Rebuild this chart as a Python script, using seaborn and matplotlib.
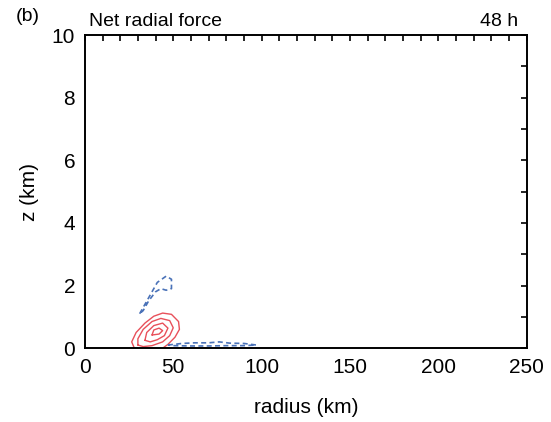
import matplotlib
matplotlib.use("Agg")
import matplotlib.pyplot as plt
import seaborn as sns
import pandas as pd
from matplotlib.ticker import MultipleLocator

# ------------------------------------------------------------
# contour paths (radius km, height km)
# ------------------------------------------------------------
# positive net radial force (red, solid)
red_r1 = [28, 26.5, 29, 34, 39, 44, 49, 53, 53.5, 51, 47, 44]
red_z1 = [0.0, 0.2, 0.5, 0.8, 1.02, 1.12, 1.08, 0.85, 0.6, 0.35, 0.12, 0.0]
red_r2 = [30, 30, 33, 38, 43, 48, 50, 48, 44, 38, 33, 30]
red_z2 = [0.1, 0.3, 0.6, 0.85, 0.95, 0.88, 0.65, 0.4, 0.2, 0.08, 0.05, 0.1]
red_r3 = [34, 35, 39, 44, 47, 45, 41, 37, 34]
red_z3 = [0.25, 0.5, 0.72, 0.8, 0.64, 0.4, 0.27, 0.2, 0.25]
red_r4 = [38, 39, 42, 44, 42, 38]
red_z4 = [0.42, 0.58, 0.64, 0.56, 0.45, 0.42]

# negative net radial force (blue, dashed)
blue_r1 = [31, 33, 37, 41, 46, 49, 49, 46, 43, 40, 36, 33, 31]
blue_z1 = [1.1, 1.3, 1.7, 2.1, 2.3, 2.2, 1.9, 1.85, 1.9, 1.8, 1.5, 1.2, 1.1]
blue_r2 = [47, 55, 62, 70, 76, 82, 90, 97, 90, 80, 70, 60, 50, 47]
blue_z2 = [0.1, 0.15, 0.17, 0.17, 0.2, 0.16, 0.15, 0.1, 0.08, 0.08, 0.07, 0.07, 0.08, 0.1]

red_paths = [(red_r1, red_z1), (red_r2, red_z2), (red_r3, red_z3), (red_r4, red_z4)]
blue_paths = [(blue_r1, blue_z1), (blue_r2, blue_z2)]

sns.set_theme(style="white")
plt.rcParams['font.family'] = ['Liberation Sans', 'DejaVu Sans']
plt.rcParams['text.color'] = 'black'
plt.rcParams['axes.labelcolor'] = 'black'
plt.rcParams['xtick.color'] = 'black'
plt.rcParams['ytick.color'] = 'black'

fig = plt.figure(figsize=(5.51, 4.22), dpi=100)
ax = fig.add_axes([0.154, 0.175, 0.802, 0.742])

for r, z in red_paths:
    sns.lineplot(data=pd.DataFrame({'r': r, 'z': z}), x='r', y='z', sort=False,
                 estimator=None, color='#e8505a', linewidth=1.0, ax=ax)
for r, z in blue_paths:
    sns.lineplot(data=pd.DataFrame({'r': r, 'z': z}), x='r', y='z', sort=False,
                 estimator=None, color='#4a72b8', linewidth=1.2,
                 linestyle=(0, (3, 2)), ax=ax)

ax.set_xlim(0, 250)
ax.set_ylim(0, 10)
ax.xaxis.set_major_locator(MultipleLocator(50))
ax.xaxis.set_minor_locator(MultipleLocator(10))
ax.yaxis.set_major_locator(MultipleLocator(2))
ax.yaxis.set_minor_locator(MultipleLocator(1))
ax.tick_params(which='both', direction='in', top=True, right=True,
               length=4.5, width=1.2, color='black', labelsize=15, pad=7)
for s in ax.spines.values():
    s.set_color('black')
    s.set_linewidth(1.4)

ax.set_xlabel('radius (km)', fontsize=15, labelpad=15)
ax.set_ylabel('z (km)', fontsize=15, labelpad=9)

ax.text(0.01, 1.015, 'Net radial force', transform=ax.transAxes,
        fontsize=14, ha='left', va='bottom')
ax.text(0.98, 1.015, '48 h', transform=ax.transAxes,
        fontsize=14, ha='right', va='bottom')
fig.text(0.028, 0.96, '(b)', fontsize=14, ha='left', va='center')

fig.savefig('out.png', dpi=100)
